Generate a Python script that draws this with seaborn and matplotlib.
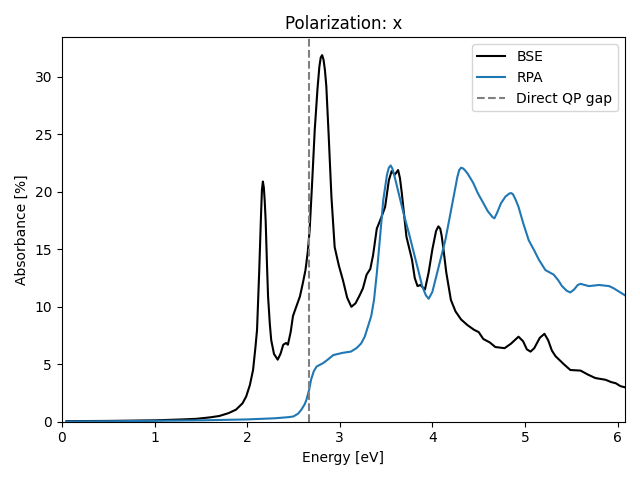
import matplotlib
matplotlib.use("Agg")
import matplotlib.pyplot as plt
import numpy as np
import seaborn as sns

# BSE absorbance
bse_energy = [
    0.05, 0.5, 1.0, 1.3, 1.45, 1.6, 1.7, 1.8, 1.88, 1.95, 1.99, 2.03, 2.064, 2.09,
    2.107, 2.13, 2.15, 2.16, 2.17, 2.18, 2.19, 2.20, 2.215, 2.226, 2.245, 2.26,
    2.29, 2.33, 2.36, 2.39, 2.42, 2.44, 2.47, 2.495, 2.53, 2.57, 2.60, 2.63,
    2.655, 2.675, 2.70, 2.73, 2.76, 2.78, 2.795, 2.81, 2.825, 2.84, 2.855, 2.88,
    2.91, 2.945, 2.99, 3.035, 3.08, 3.125, 3.17, 3.215, 3.25, 3.29, 3.33, 3.36,
    3.40, 3.45, 3.49, 3.53, 3.56, 3.595, 3.63, 3.65, 3.67, 3.72, 3.78, 3.81,
    3.84, 3.87, 3.92, 3.96, 4.00, 4.04, 4.065, 4.085, 4.10, 4.12, 4.15, 4.20,
    4.25, 4.31, 4.38, 4.45, 4.50, 4.55, 4.62, 4.68, 4.78, 4.85, 4.93, 4.98,
    5.02, 5.06, 5.10, 5.16, 5.21, 5.25, 5.29, 5.33, 5.42, 5.49, 5.60, 5.68,
    5.76, 5.87, 5.93, 5.98, 6.03, 6.10,
]
bse_abs = [
    0.05, 0.07, 0.12, 0.2, 0.25, 0.38, 0.5, 0.75, 1.05, 1.6, 2.2, 3.2, 4.5, 6.5,
    8.0, 13.0, 18.0, 20.2, 20.9, 20.4, 19.2, 17.5, 13.5, 10.9, 8.5, 7.1,
    5.9, 5.4, 5.9, 6.7, 6.85, 6.7, 7.8, 9.2, 10.0, 10.9, 12.0, 13.2,
    14.8, 16.7, 20.5, 25.4, 29.0, 30.9, 31.7, 31.9, 31.5, 30.6, 29.2, 25.0,
    19.6, 15.2, 13.6, 12.3, 10.8, 10.0, 10.3, 11.0, 11.6, 12.8, 13.3, 14.5,
    16.8, 17.8, 18.7, 21.0, 21.8, 21.5, 21.9, 21.2, 19.9, 16.1, 14.1, 12.5,
    11.8, 11.9, 11.5, 13.0, 15.0, 16.6, 17.0, 16.8, 16.2, 15.0, 13.0, 10.6,
    9.6, 8.9, 8.4, 8.0, 7.8, 7.2, 6.9, 6.5, 6.4, 6.8, 7.4, 7.0,
    6.3, 6.1, 6.4, 7.3, 7.65, 7.1, 6.2, 5.7, 5.0, 4.5, 4.45, 4.1,
    3.8, 3.65, 3.45, 3.35, 3.1, 2.95,
]

# RPA absorbance
rpa_energy = [
    0.05, 0.5, 1.0, 1.5, 2.0, 2.3, 2.45, 2.50, 2.55, 2.585, 2.62, 2.64, 2.67,
    2.69, 2.72, 2.75, 2.82, 2.87, 2.93, 3.035, 3.12, 3.18, 3.23, 3.27, 3.305,
    3.34, 3.37, 3.40, 3.43, 3.47, 3.51, 3.53, 3.55, 3.57, 3.59, 3.61, 3.69,
    3.75, 3.80, 3.85, 3.89, 3.93, 3.96, 4.00, 4.05, 4.14, 4.23, 4.27, 4.29,
    4.31, 4.33, 4.35, 4.38, 4.44, 4.49, 4.60, 4.65, 4.67, 4.70, 4.74, 4.79,
    4.83, 4.85, 4.87, 4.90, 4.93, 4.98, 5.04, 5.10, 5.15, 5.22, 5.31, 5.36,
    5.40, 5.45, 5.49, 5.53, 5.57, 5.60, 5.69, 5.80, 5.91, 5.96, 6.02, 6.10,
]
rpa_abs = [
    0.02, 0.04, 0.08, 0.12, 0.2, 0.3, 0.4, 0.46, 0.7, 1.04, 1.5, 1.9, 2.8,
    3.65, 4.4, 4.8, 5.1, 5.4, 5.8, 6.0, 6.1, 6.4, 6.8, 7.4, 8.3,
    9.2, 10.6, 12.9, 15.6, 19.3, 21.5, 22.1, 22.3, 22.0, 21.4, 20.75, 18.1,
    16.3, 14.7, 13.1, 11.8, 11.0, 10.7, 11.3, 12.9, 15.8, 19.6, 21.3, 21.9,
    22.1, 22.05, 21.9, 21.6, 20.8, 19.9, 18.3, 17.8, 17.7, 18.2, 19.0, 19.6,
    19.85, 19.9, 19.8, 19.3, 18.7, 17.3, 15.8, 14.9, 14.1, 13.2, 12.8, 12.3,
    11.8, 11.4, 11.25, 11.5, 11.9, 12.0, 11.8, 11.9, 11.8, 11.6, 11.3, 10.9,
]

qp_gap = 2.664

fig, ax = plt.subplots(figsize=(6.4, 4.8), dpi=100)
sns.lineplot(x=np.array(bse_energy), y=np.array(bse_abs), color="black", label="BSE", ax=ax)
sns.lineplot(x=np.array(rpa_energy), y=np.array(rpa_abs), color="#1f77b4", label="RPA", ax=ax)
ax.axvline(qp_gap, color="gray", linestyle="--", label="Direct QP gap")

ax.set_xlim(0, 6.08)
ax.set_ylim(0, 33.45)
ax.set_title("Polarization: x")
ax.set_xlabel("Energy [eV]")
ax.set_ylabel("Absorbance [%]")
ax.legend(loc="upper right")
plt.tight_layout()
plt.savefig("out.png", dpi=100)
plt.close()
